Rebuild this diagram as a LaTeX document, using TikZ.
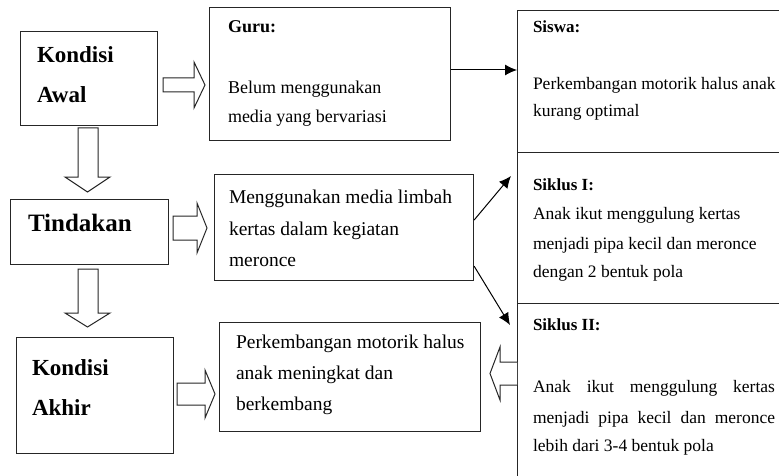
\documentclass[tikz,border=0pt]{standalone}
\usepackage{fontspec}
\setmainfont{Liberation Serif}
\usetikzlibrary{arrows.meta,calc}
\tikzset{
  box/.style={draw=black!85, line width=1.1pt, fill=white, inner sep=0pt, anchor=north west},
  txt/.style={anchor=base west, inner sep=0pt, outer sep=0pt, text=black},
  blk/.style={draw=black!85, line width=1pt, fill=white, line join=miter},
  conn/.style={draw=black, line width=1pt, -{Latex[length=12pt,width=11pt]}},
  big/.style={txt, font=\fontsize{23}{27}\selectfont\bfseries},
  bigger/.style={txt, font=\fontsize{25}{29}\selectfont\bfseries},
  mid/.style={txt, font=\fontsize{19.5}{23}\selectfont},
  midb/.style={txt, font=\fontsize{18}{22}\selectfont},
  midbb/.style={txt, font=\fontsize{18}{22}\selectfont\bfseries},
  sm/.style={txt, font=\fontsize{17.5}{21}\selectfont},
  smb/.style={txt, font=\fontsize{17}{21}\selectfont\bfseries},
}
\begin{document}
\begin{tikzpicture}[x=1pt,y=-1pt]
\useasboundingbox (0,0) rectangle (779,476);
\fill[white] (0,0) rectangle (779,476);
\clip (0,0) rectangle (779,476);

% boxes
\node[box, minimum width=137pt, minimum height=94pt] (awal) at (20,31) {};
\node[box, minimum width=241pt, minimum height=133pt] (guru) at (209,7) {};
\node[box, minimum width=158pt, minimum height=65pt] (tind) at (10,199) {};
\node[box, minimum width=259pt, minimum height=106pt] (meng) at (214,174) {};
\node[box, minimum width=157pt, minimum height=116pt] (akhir) at (16,337) {};
\node[box, minimum width=261pt, minimum height=109pt] (perk) at (219,322) {};
\node[box, minimum width=270pt, minimum height=142pt] (siswa) at (517,10) {};
\node[box, minimum width=270pt, minimum height=151pt] (sik1) at (517,152) {};
\node[box, minimum width=270pt, minimum height=190pt] (sik2) at (517,303) {};

% texts
\node[big] (t1) at (37,63) {Kondisi};
\node[big] (t2) at (37,103) {Awal};
\node[midbb] (t3) at (228,33) {Guru:};
\node[midb] (t4) at (228,94) {Belum menggunakan};
\node[midb] (t5) at (228,123) {media yang bervariasi};
\node[smb] (t6) at (533,33) {Siswa:};
\node[sm] (t7) at (533,90) {Perkembangan motorik halus anak};
\node[sm] (t8) at (533,117) {kurang optimal};
\node[bigger] (t9) at (28,231) {Tindakan};
\node[mid] (t10) at (229,203) {Menggunakan media limbah};
\node[mid] (t11) at (229,235) {kertas dalam kegiatan};
\node[mid] (t12) at (229,266) {meronce};
\node[smb] (t13) at (533,190) {Siklus I:};
\node[sm] (t14) at (533,219) {Anak ikut menggulung kertas};
\node[sm] (t15) at (533,249) {menjadi pipa kecil dan meronce};
\node[sm] (t16) at (533,277) {dengan 2 bentuk pola};
\node[big] (t17) at (32,375) {Kondisi};
\node[big] (t18) at (32,415) {Akhir};
\node[mid] (t19) at (236,348) {Perkembangan motorik halus};
\node[mid] (t20) at (236,379) {anak meningkat dan};
\node[mid] (t21) at (236,410) {berkembang};
\node[smb] (t22) at (533,330) {Siklus II:};
\node[sm] (t23) at (533,392) {\makebox[242pt][s]{Anak ikut menggulung kertas}};
\node[sm] (t24) at (533,423) {\makebox[242pt][s]{menjadi pipa kecil dan meronce}};
\node[sm] (t25) at (533,451) {lebih dari 3-4 bentuk pola};

% block arrows
\draw[blk] (163,78) -- (194,78) -- (194,62) -- (205,85) -- (194,108) -- (194,92) -- (163,92) -- cycle;
\draw[blk] (78,128) -- (98,128) -- (98,177) -- (110,177) -- (87.5,192) -- (65,177) -- (78,177) -- cycle;
\draw[blk] (173,216) -- (197,216) -- (197,203) -- (207,228) -- (197,253) -- (197,240) -- (173,240) -- cycle;
\draw[blk] (78,269) -- (98,269) -- (98,313) -- (110,313) -- (87.5,327) -- (65,313) -- (78,313) -- cycle;
\draw[blk] (177,383) -- (205,383) -- (205,370) -- (215,394) -- (205,418) -- (205,405) -- (177,405) -- cycle;
\draw[blk] (517,362) -- (500,362) -- (500,347) -- (490,373.5) -- (500,400) -- (500,385) -- (517,385);

% connectors
\coordinate (e1) at (511,176);
\coordinate (e2) at (510,325);
\draw[conn] (guru.east |- 0,70) -- (siswa.west |- 0,70);
\draw[conn] ($(meng.north east)!0.43!(meng.south east)$) -- (e1);
\draw[conn] ($(meng.north east)!0.86!(meng.south east)$) -- (e2);
\end{tikzpicture}
\end{document}
